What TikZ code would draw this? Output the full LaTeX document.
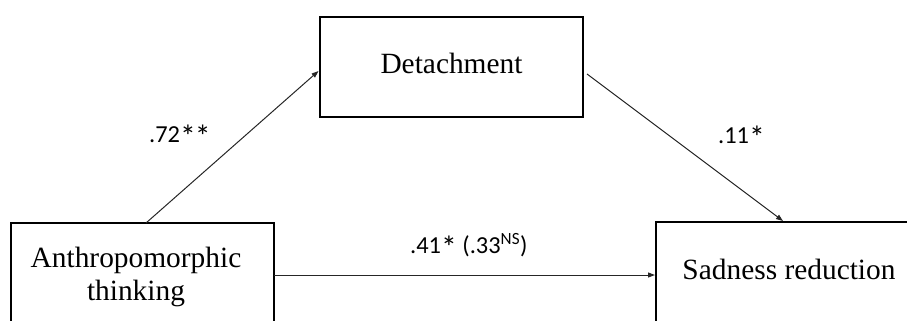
\documentclass[tikz,border=0pt]{standalone}
\usepackage{fontspec}
\setmainfont{Liberation Serif}
\newfontfamily\labfont{Carlito}
\newcommand\coefstar{\raisebox{-5.5bp}{\scalebox{1.3}{*}}}
\usetikzlibrary{arrows.meta,calc}
\begin{document}
\begin{tikzpicture}[x=1bp,y=-1bp,
  box/.style={draw=black,line width=2.2bp,minimum width=263bp,minimum height=100bp,inner sep=0pt,outer sep=0pt,anchor=north west},
  boxtext/.style={font=\fontsize{29.5}{33}\selectfont,inner sep=0pt,anchor=base},
  link/.style={draw=black!85,line width=1bp,-{Triangle[length=7bp,width=5bp]}},
  coef/.style={font=\labfont\fontsize{24.5}{28}\selectfont,inner sep=0pt,anchor=base west}]
\useasboundingbox (0,0) rectangle (907,320);
\clip (0,0) rectangle (907,320);
\node[box] (det) at (320,17) {};
\node[box] (anthro) at (11,223) {};
\node[box] (sad) at (656,222) {};
\node[boxtext] (dettext) at (451.5,73) {Detachment};
\node[boxtext] (anthrotexta) at (136,267) {Anthropomorphic};
\node[boxtext] (anthrotextb) at (136,300) {thinking};
\node[boxtext] (sadtext) at (789,279) {Sadness reduction};
\draw[link] ($(anthro.north)+(3.5,0)$) -- ($(det.west)+(-1.5,4)$);
\draw[link] ($(det.east)+(4,7)$) -- ($(sad.north)+(-4.5,-1)$);
\draw[link] ($(anthro.east)+(0,2)$) -- ($(sad.west)+(-1,3)$);
\node[coef] (ca) at (149,142) {.72\coefstar\kern-1bp\coefstar};
\node[coef] (cb) at (718,143) {.11\coefstar};
\node[coef] (cc) at (410,253) {.41\coefstar{} (.33\textsuperscript{NS})};
\end{tikzpicture}
\end{document}
